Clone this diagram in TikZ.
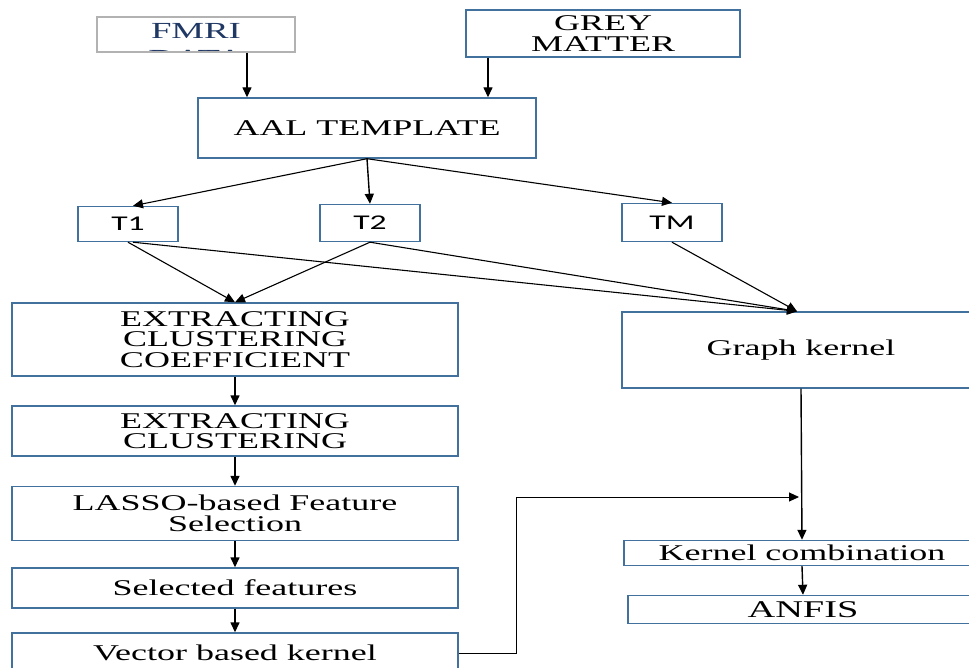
\documentclass[tikz,border=0pt]{standalone}
\usepackage{fontspec}
\setmainfont{Liberation Serif}[FakeStretch=1.6]
\newfontfamily\calfont{Carlito}[FakeStretch=1.6]
\usepackage{tikz}
\usetikzlibrary{arrows.meta}
\definecolor{boxblue}{RGB}{65,113,156}
\definecolor{navy}{RGB}{32,56,100}

\begin{document}
\begin{tikzpicture}[x=1pt,y=-1pt,
  box/.style={draw=boxblue,line width=1.4pt,align=center,inner sep=0pt,
    font=\fontsize{22.5}{20.5}\selectfont},
  tbox/.style={box,font=\calfont\fontsize{21}{21}\selectfont,minimum width=100pt},
  arr/.style={line width=1.4pt,-{Triangle[length=10pt,width=9pt]}}]
\fill[white] (0,0) rectangle (969,668);
\path[use as bounding box,clip] (0,0) rectangle (969,668);
% fmri box, second line is cut off
\begin{scope}
\clip (97,17) rectangle (295,51);
\node[text=navy,font=\fontsize{23}{20}\selectfont] (fmritxt) at (196,31) {FMRI};
\node[text=navy,font=\fontsize{23}{20}\selectfont] (datatxt) at (196,58) {DATA};
\end{scope}
\node[draw=gray!60,line width=2pt,minimum width=198pt,minimum height=35pt] (fmri) at (196,34.5) {};
\node[box,minimum width=274pt,minimum height=47pt] (grey) at (603,33.5) {GREY\\MATTER};
\node[box,minimum width=338pt,minimum height=60pt] (aal) at (367,128) {AAL TEMPLATE};
\node[tbox,minimum height=35pt] (tone) at (128,224) {T1};
\node[tbox,minimum height=37pt] (ttwo) at (370,223) {T2};
\node[tbox,minimum height=38pt] (tm) at (672,222.5) {TM};
\node[box,minimum width=446pt,minimum height=73pt] (ecc) at (235,339.5) {EXTRACTING\\CLUSTERING\\COEFFICIENT};
\node[box,minimum width=358pt,minimum height=76pt] (gk) at (801,350) {Graph kernel};
\node[box,minimum width=446pt,minimum height=50pt] (ec) at (235,431) {EXTRACTING\\CLUSTERING};
\node[box,minimum width=446pt,minimum height=54pt] (lasso) at (235,513.5) {LASSO-based Feature\\Selection};
\node[box,minimum width=446pt,minimum height=40pt] (sel) at (235,588) {Selected features};
\node[box,minimum width=446pt,minimum height=40pt] (vec) at (235,653) {Vector based kernel};
\node[box,minimum width=356pt,minimum height=25pt] (kc) at (802,553) {Kernel combination};
\node[box,minimum width=350pt,minimum height=28pt,font=\fontsize{24}{24}\selectfont] (anfis) at (803,609.5) {ANFIS};
\coordinate (join) at (799,497);

\draw[arr] ([xshift=51pt]fmri.south) -- ([xshift=-120pt]aal.north);
\draw[arr] ([xshift=-115pt]grey.south) -- ([xshift=121pt]aal.north);
\draw[arr,line width=1.1pt] (aal.south) -- ([xshift=5pt]tone.north);
\draw[arr] (aal.south) -- (ttwo.north);
\draw[arr,line width=1.1pt] (aal.south) -- (tm.north);
\draw[arr,line width=1.1pt] (tone.south) -- (ecc.north);
\draw[arr,line width=1.1pt] (ttwo.south) -- (ecc.north);
\draw[arr,line width=1.1pt] ([xshift=5pt]tone.south) -- ([xshift=-4pt]gk.north);
\draw[arr,line width=1.1pt] (ttwo.south) -- ([xshift=-4pt]gk.north);
\draw[arr,line width=1.1pt] (tm.south) -- ([xshift=-4pt]gk.north);
\draw[arr] (ecc.south) -- (ec.north);
\draw[arr] (ec.south) -- (lasso.north);
\draw[arr] (lasso.south) -- (sel.north);
\draw[arr] (sel.south) -- (vec.north);
\draw[arr] (gk.south) -- (kc.north);
\draw[arr] (kc.south) -- (anfis.north);
\draw[arr,line width=0.9pt] (vec.east) -- ++(58,0) |- (join);
\end{tikzpicture}
\end{document}
